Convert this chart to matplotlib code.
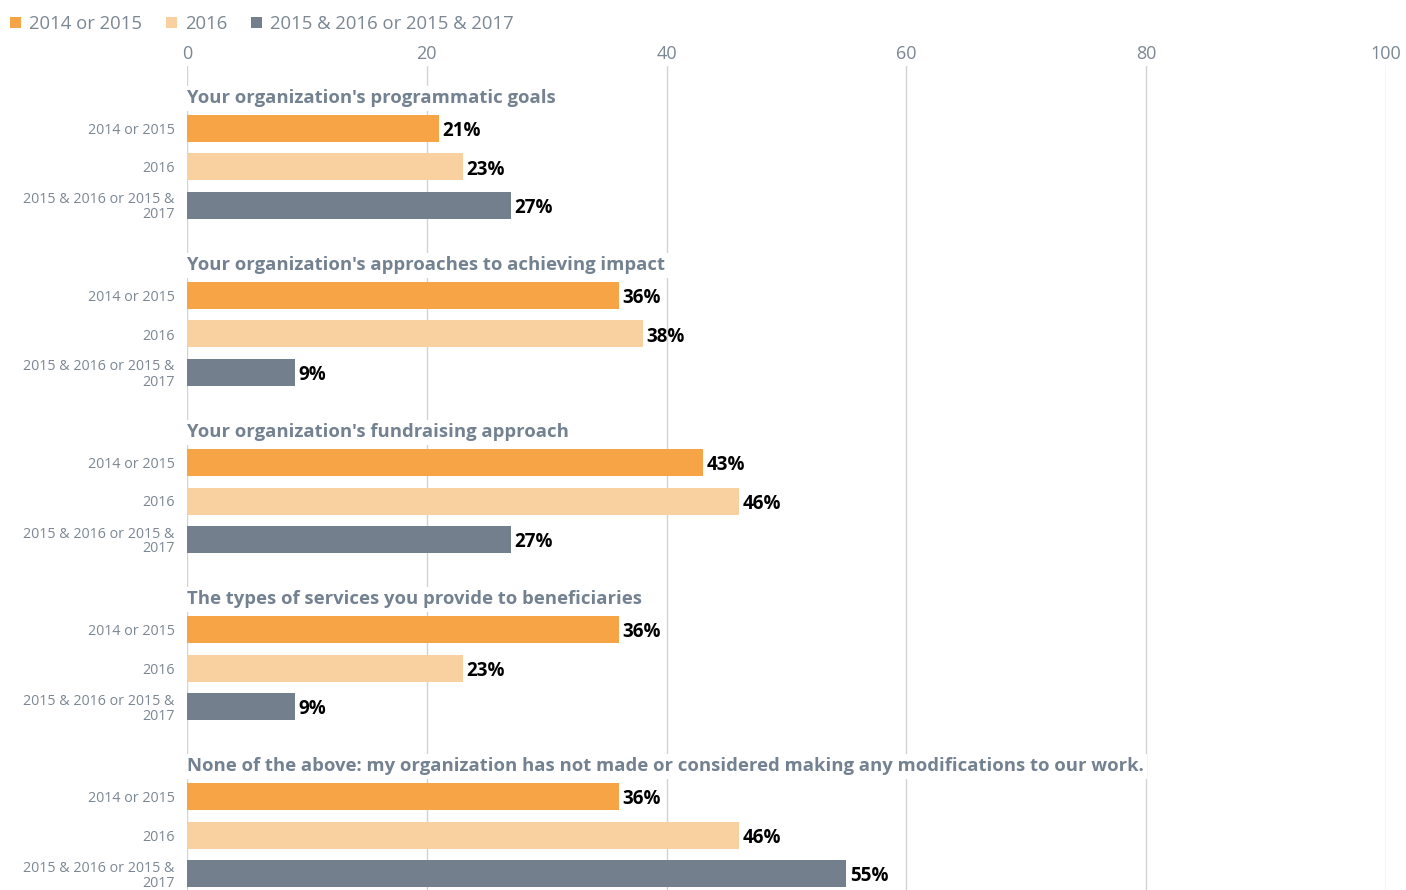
import matplotlib
matplotlib.use("Agg")
import matplotlib.pyplot as plt
from matplotlib.patches import Patch

plt.rcParams['font.family'] = ['Open Sans', 'DejaVu Sans']

questions = [
    "Your organization's programmatic goals",
    "Your organization's approaches to achieving impact",
    "Your organization's fundraising approach",
    "The types of services you provide to beneficiaries",
    "None of the above: my organization has not made or considered making any modifications to our work.",
]
series_names = ["2014 or 2015", "2016", "2015 & 2016 or 2015 & 2017"]
row_labels = ["2014 or 2015", "2016", "2015 & 2016 or 2015 &\n2017"]
vals_2014_2015 = [21, 36, 43, 36, 36]
vals_2016 = [23, 38, 46, 23, 46]
vals_multi = [27, 9, 27, 9, 55]
xticks = [0, 20, 40, 60, 80, 100]

colors = ["#F7A446", "#F9D0A0", "#737F8C"]
label_gray = "#7B8793"
title_gray = "#738190"

W, H = 1406, 890
fig = plt.figure(figsize=(W / 100, H / 100), dpi=100)
ax = fig.add_axes([187 / W, 0, 1199 / W, (H - 66) / H])

group_pitch = 167 / 38.5
bar_h = 27 / 38.5
series = [vals_2014_2015, vals_2016, vals_multi]

ytick_pos, ytick_lab = [], []
for g, q in enumerate(questions):
    base = g * group_pitch
    ax.text(0, base - 0.66, q, ha='left', va='baseline', fontsize=13.3,
            fontweight='bold', color=title_gray, zorder=4,
            bbox=dict(facecolor='white', edgecolor='none', pad=2.5))
    for i, s in enumerate(series):
        y = base + i
        v = s[g]
        ax.barh(y, v, height=bar_h, color=colors[i], zorder=3)
        ax.text(v + 0.3, y + 0.2, f"{v}%", ha='left', va='baseline', fontsize=13.5,
                fontweight='bold', color='black', zorder=5)
        ytick_pos.append(y)
        ytick_lab.append(row_labels[i])

ax.set_xlim(0, 100)
ax.set_ylim(4 * group_pitch + 2 + 16.5 / 38.5, -62.5 / 38.5)
ax.set_xticks(xticks)
ax.xaxis.tick_top()
ax.tick_params(axis='x', length=0, pad=2.5, labelsize=13, labelcolor=label_gray)
ax.set_yticks(ytick_pos)
ax.set_yticklabels(ytick_lab, fontsize=10.3, color=label_gray, linespacing=1.0)
ax.tick_params(axis='y', length=0, pad=9)
ax.grid(axis='x', color='#D3D3D3', linewidth=1)
ax.set_axisbelow(True)
for sp in ax.spines.values():
    sp.set_visible(False)

handles = [Patch(facecolor=c, edgecolor='none') for c in colors]
leg = fig.legend(handles, series_names, loc='center left',
                 bbox_to_anchor=(10 / W, 1 - 24 / H),
                 ncol=3, frameon=False, fontsize=13.3, handlelength=0.6, handleheight=0.6,
                 handletextpad=0.42, columnspacing=1.3, borderaxespad=0, borderpad=0)
for t in leg.get_texts():
    t.set_color(label_gray)

fig.savefig("out.png", dpi=100)
